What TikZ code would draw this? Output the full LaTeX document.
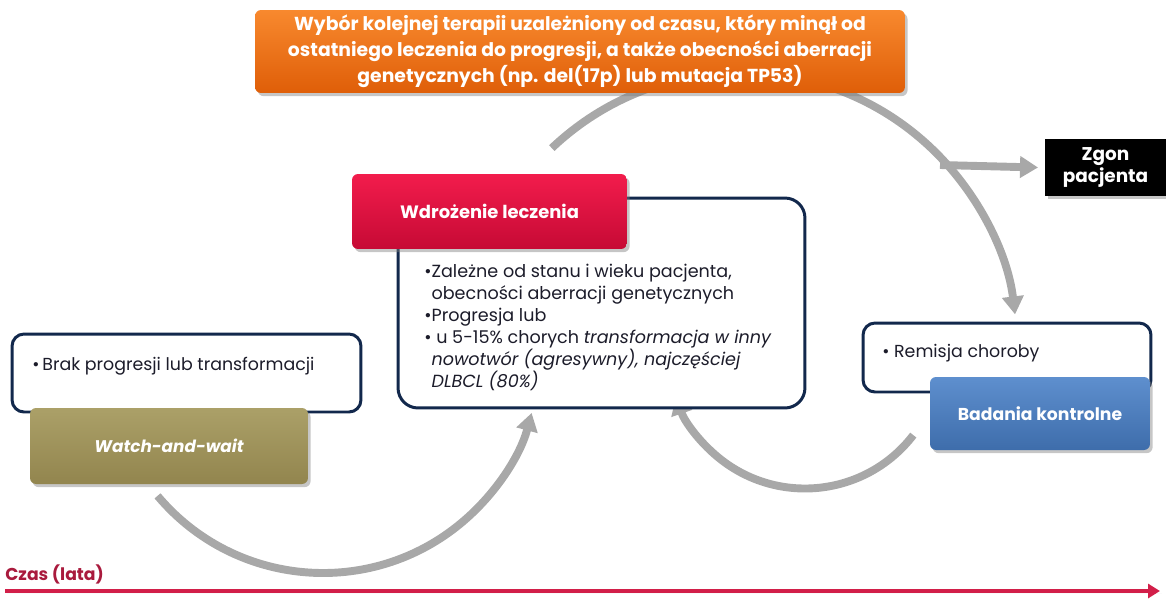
\documentclass[tikz,border=0pt]{standalone}
\usepackage{fontspec}
\setmainfont{Poppins}
\usetikzlibrary{arrows.meta,shadows,calc}

\definecolor{arcgray}{HTML}{A8A8A8}
\definecolor{navy}{HTML}{12284C}
\definecolor{orangeA}{HTML}{F8892E}
\definecolor{orangeB}{HTML}{DF5E08}
\definecolor{redA}{HTML}{F21C4C}
\definecolor{redB}{HTML}{C60A35}
\definecolor{oliveA}{HTML}{ABA068}
\definecolor{oliveB}{HTML}{92854E}
\definecolor{blueA}{HTML}{5E8FCE}
\definecolor{blueB}{HTML}{3E6DAB}
\definecolor{timered}{HTML}{D21F49}
\definecolor{labelred}{HTML}{A91A3D}
\definecolor{bodytext}{HTML}{1C1C2A}

\tikzset{
  infobox/.style={draw=navy, line width=1.7pt, fill=white, rounded corners=0.24cm, inner sep=0pt},
  bigbox/.style={infobox, rounded corners=0.4cm},
  tagbox/.style={rounded corners=0.12cm, inner sep=0pt, text=white, align=center,
    drop shadow={opacity=0.45, shadow xshift=1.5pt, shadow yshift=-1.8pt}},
  cyclearrow/.style={draw=arcgray, line width=4.5pt,
    -{Triangle[width=0.42cm,length=0.36cm]}},
  bullettext/.style={text=bodytext, align=left, inner sep=0pt},
}

\begin{document}
\begin{tikzpicture}[x=0.02cm,y=-0.02cm]
\useasboundingbox (0,0) rectangle (1166,599);

% grey cycle arrows (drawn first, so the boxes cover their ends)
\coordinate (c1) at (323,357);
\coordinate (c2) at (805,352);
\coordinate (c3) at (741.5,348);
\coordinate (w2w) at ($(c1)+(140:216)$);
\coordinate (ctl) at ($(c2)+(37.5:136.5)$);
\coordinate (trt) at ($(c3)+(226.5:275.6)$);
\draw[cyclearrow] (w2w) arc[start angle=140, end angle=15, radius=216];
\draw[cyclearrow] (ctl) arc[start angle=37.5, end angle=161, radius=136.5];
\draw[cyclearrow] (trt) arc[start angle=226.5, end angle=353, radius=275.6];

% information boxes
\node[infobox, minimum width=6.98cm, minimum height=1.56cm] (brak) at (186.5,373) {};
\node[bigbox, minimum width=8.14cm, minimum height=4.2cm] (body) at (601.5,303) {};
\node[infobox, minimum width=5.76cm, minimum height=1.38cm] (remisja) at (1007,357.5) {};

\node[bullettext, anchor=west, font=\fontsize{9.9}{11}\selectfont] (brakt) at (32,366)
  {\textbullet\,Brak progresji lub transformacji};
\node[bullettext, anchor=west, font=\fontsize{9.9}{11}\selectfont] (remt) at (882,353)
  {\textbullet\ Remisja choroby};
\node[bullettext, anchor=north west, font=\fontsize{10}{12.5}\selectfont] (bodyt) at (424,264)
  {\textbullet Zależne od stanu i wieku pacjenta,\\
   \hphantom{\textbullet}obecności aberracji genetycznych\\
   \textbullet Progresja lub\\
   \textbullet\ u 5-15\% chorych \textit{transformacja w inny}\\
   \hphantom{\textbullet}\textit{nowotwór (agresywny), najczęściej}\\
   \hphantom{\textbullet}\textit{DLBCL (80\%)}};

% coloured stage boxes
\node[tagbox, top color=orangeA, bottom color=orangeB, minimum width=13cm, minimum height=1.66cm,
  font=\bfseries\fontsize{10.7}{14.8}\selectfont] (next) at (580,51.5)
  {Wybór kolejnej terapii uzależniony od czasu, który minął od\\
   ostatniego leczenia do progresji, a także obecności aberracji\\
   genetycznych (np. del(17p) lub mutacja TP53)};
\node[tagbox, top color=redA, bottom color=redB, minimum width=5.5cm, minimum height=1.5cm,
  font=\bfseries\fontsize{10.2}{12}\selectfont] (treat) at (489.5,211.5) {Wdrożenie leczenia};
\node[tagbox, top color=oliveA, bottom color=oliveB, minimum width=5.56cm, minimum height=1.52cm,
  font=\bfseries\itshape\fontsize{9.6}{12}\selectfont] (watch) at (169,446) {Watch-and-wait};
\node[tagbox, top color=blueA, bottom color=blueB, minimum width=4.4cm, minimum height=1.46cm,
  font=\bfseries\fontsize{9.8}{12}\selectfont] (control) at (1040,413.5) {Badania kontrolne};
\node[tagbox, fill=black, rounded corners=0pt, minimum width=2.42cm, minimum height=1.14cm,
  font=\bfseries\fontsize{10.5}{12.5}\selectfont] (death) at (1105.5,167.5) {Zgon\\pacjenta};

% branch towards death
\coordinate (split) at (940,165);
\draw[cyclearrow] (split) -- (death.west -| 1038,0);

% time axis
\node[anchor=west, inner sep=0pt, text=labelred, font=\bfseries\fontsize{9.8}{11}\selectfont]
  (czas) at (5,574) {Czas (lata)};
\coordinate (t0) at (5,591);
\coordinate (t1) at (1160,591);
\draw[timered, line width=2.3pt, -{Triangle[width=0.28cm,length=0.24cm]},
  drop shadow={opacity=0.3, shadow xshift=1pt, shadow yshift=-1.5pt}] (t0) -- (t1);
\end{tikzpicture}
\end{document}
